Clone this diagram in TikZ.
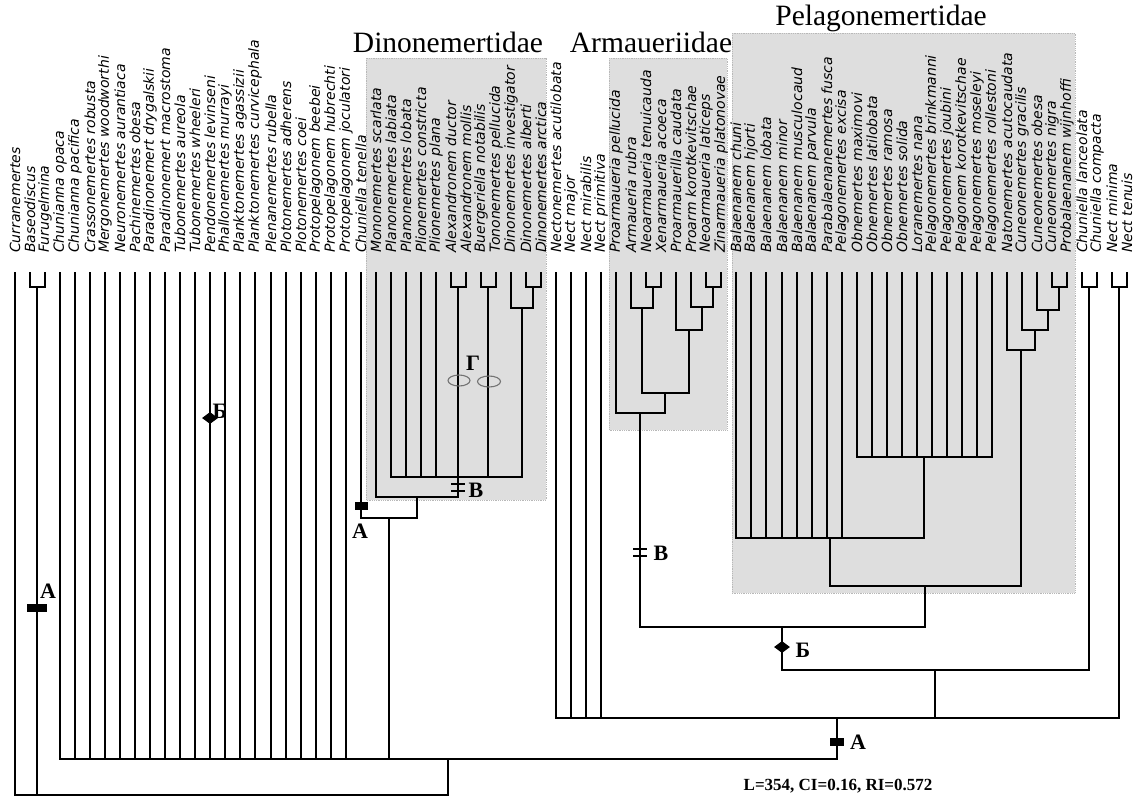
\documentclass[tikz,border=0pt]{standalone}
\usepackage{fontspec}
\setmainfont{Liberation Serif}
\newfontfamily\taxfont{DejaVu Sans}
\usetikzlibrary{shapes.geometric}
\def\lx#1{round(15+(#1-1)*15.03)}
\newcommand\mkclade[2]{\foreach \c in {#2}{\draw[br] (\c) |- (#1);}}
\begin{document}
\begin{tikzpicture}[x=1pt,y=-1pt,
  br/.style={line width=2.4pt,line cap=rect},
  tax/.style={rotate=90,anchor=west,inner sep=0pt,font=\taxfont\itshape\fontsize{14}{15}\selectfont},
  ttl/.style={anchor=base,inner sep=0pt,font=\fontsize{29.5}{31}\selectfont},
  lett/.style={inner sep=0pt,font=\bfseries\fontsize{22}{24}\selectfont},
  fam/.style={fill=black!13,draw=black!28,densely dotted,line width=0.8pt},
  amark/.style={fill=black,inner sep=0pt,minimum height=7.5pt},
  bmark/.style={diamond,fill=black,inner sep=0pt,minimum width=16pt,minimum height=12pt},
  vbar/.style={line width=2.2pt},
  gring/.style={draw=black!55,line width=1.1pt}]
\useasboundingbox (0,0) rectangle (1142,798);
\fill[white] (0,0) rectangle (1142,798);
% family boxes
\path[fam] (366,58) rectangle (546,500);
\path[fam] (609,58) rectangle (727,430);
\path[fam] (732,33) rectangle (1075,593);
\node[ttl] (tD) at (448,52) {Dinonemertidae};
\node[ttl] (tA) at (651,52) {Armaueriidae};
\node[ttl] (tP) at (881,25) {Pelagonemertidae};
% leaves
\foreach \n/\t in {1/Curranemertes,2/Baseodiscus,3/Furugelmina,4/Chunianna opaca,5/Chunianna pacifica,
 6/Crassonemertes robusta,7/Mergonemertes woodworthi,8/Neuronemertes aurantiaca,9/Pachinemertes obesa,
 10/Paradinonemert drygalskii,11/Paradinonemert macrostoma,12/Tubonemertes aureola,13/Tubonemertes wheeleri,
 14/Pendonemertes levinseni,15/Phallonemertes murrayi,16/Planktonemertes agassizii,17/Planktonemertes curvicephala,
 18/Plenanemertes rubella,19/Plotonemertes adherens,20/Plotonemertes coei,21/Protopelagonem beebei,
 22/Protopelagonem hubrechti,23/Protopelagonem joculatori,24/Chuniella tenella,25/Mononemertes scarlata,
 26/Planonemertes labiata,27/Planonemertes lobata,28/Plionemertes constricta,29/Plionemertes plana,
 30/Alexandronem ductor,31/Alexandronem mollis,32/Buergeriella notabilis,33/Tononemertes pellucida,
 34/Dinonemertes investigator,35/Dinonemertes alberti,36/Dinonemertes arctica,37/Nectonemertes acutilobata,
 38/Nect major,39/Nect mirabilis,40/Nect primitiva,41/Proarmaueria pellucida,42/Armaueria rubra,
 43/Neoarmaueria tenuicauda,44/Xenarmaueria acoeca,45/Proarmauerilla caudata,46/Proarm korotkevitschae,
 47/Neoarmaueria laticeps,48/Zinarmaueria platonovae,49/Balaenanem chuni,50/Balaenanem hjorti,
 51/Balaenanem lobata,52/Balaenanem minor,53/Balaenanem musculocaud,54/Balaenanem parvula,
 55/Parabalaenanemertes fusca,56/Pelagonemertes excisa,57/Obnemertes maximovi,58/Obnemertes latilobata,
 59/Obnemertes ramosa,60/Obnemertes solida,61/Loranemertes nana,62/Pelagonemertes brinkmanni,
 63/Pelagonemertes joubini,64/Pelagonem korotkevitschae,65/Pelagonemertes moseleyi,66/Pelagonemertes rollestoni,
 67/Natonemertes acutocaudata,68/Cuneonemertes gracilis,69/Cuneonemertes obesa,70/Cuneonemertes nigra,
 71/Probalaenanem wijnhoffi,72/Chuniella lanceolata,73/Chuniella compacta,74/Nect minima,75/Nect tenuis}{
  \coordinate (t\n) at ({\lx{\n}},273);
  \node[tax] (l\n) at ({\lx{\n}},253) {\t};
}
% internal nodes
\coordinate (root) at (231,795);
\coordinate (pBF) at (37,287);
\coordinate (nMid) at (448,759);
\coordinate (nD1) at (389,518);
\coordinate (nD2) at (417,497);
\coordinate (nD3) at (458,477);
\coordinate (pAlex) at (458,287);
\coordinate (pBT) at (488,287);
\coordinate (pAA) at (533,287);
\coordinate (nDino) at (522,308);
\coordinate (nA) at (837,718);
\coordinate (pNN) at (1119,287);
\coordinate (pCC) at (1089,287);
\coordinate (nB1) at (935,670);
\coordinate (nAP) at (782,627);
\coordinate (nArm) at (640,413);
\coordinate (nArm2) at (665,393);
\coordinate (nArm3) at (642,308);
\coordinate (pNX) at (653,287);
\coordinate (nArm4) at (689,330);
\coordinate (nArm5) at (702,307);
\coordinate (pLZ) at (713,287);
\coordinate (nPel) at (925,586);
\coordinate (nPel1) at (830,538);
\coordinate (nPel3) at (924,457);
\coordinate (nPel2) at (1021,350);
\coordinate (nPel4) at (1035,330);
\coordinate (nPel5) at (1048,310);
\coordinate (pNW) at (1059,287);
% tree
\mkclade{root}{t1,pBF,nMid}
\mkclade{pBF}{t2,t3}
\mkclade{nMid}{t4,t5,t6,t7,t8,t9,t10,t11,t12,t13,t14,t15,t16,t17,t18,t19,t20,t21,t22,t23,nD1,nA}
\mkclade{nD1}{t24,nD2}
\mkclade{nD2}{t25,nD3}
\mkclade{nD3}{t26,t27,t28,t29,pAlex,pBT,nDino}
\mkclade{pAlex}{t30,t31}
\mkclade{pBT}{t32,t33}
\mkclade{nDino}{t34,pAA}
\mkclade{pAA}{t35,t36}
\mkclade{nA}{t37,t38,t39,t40,nB1,pNN}
\mkclade{pNN}{t74,t75}
\mkclade{nB1}{nAP,pCC}
\mkclade{pCC}{t72,t73}
\mkclade{nAP}{nArm,nPel}
\mkclade{nArm}{t41,nArm2}
\mkclade{nArm2}{nArm3,nArm4}
\mkclade{nArm3}{t42,pNX}
\mkclade{pNX}{t43,t44}
\mkclade{nArm4}{t45,nArm5}
\mkclade{nArm5}{t46,pLZ}
\mkclade{pLZ}{t47,t48}
\mkclade{nPel}{nPel1,nPel2}
\mkclade{nPel1}{t49,t50,t51,t52,t53,t54,t55,t56,nPel3}
\mkclade{nPel3}{t57,t58,t59,t60,t61,t62,t63,t64,t65,t66}
\mkclade{nPel2}{t67,nPel4}
\mkclade{nPel4}{t68,nPel5}
\mkclade{nPel5}{t69,pNW}
\mkclade{pNW}{t70,t71}
% markers
\node[amark,minimum width=20pt] (mA1) at (37,608) {};
\node[lett] (lA1) at (48,591) {А};
\node[amark,minimum width=13pt] (mA2) at (361,506) {};
\node[lett] (lA2) at (360,531) {А};
\node[amark,minimum width=14pt] (mA3) at (837,742) {};
\node[lett] (lA3) at (858,742) {А};
\node[bmark] (mB1) at (210,418) {};
\node[lett] (lB1) at (220,411) {Б};
\node[bmark] (mB2) at (782,647) {};
\node[lett] (lB2) at (803,650) {Б};
\draw[vbar] (451,484) -- (465,484);
\draw[vbar] (451,491) -- (465,491);
\node[lett] (lV1) at (476,490) {В};
\draw[vbar] (633,549) -- (647,549);
\draw[vbar] (633,556) -- (647,556);
\node[lett] (lV2) at (661,553) {В};
\draw[gring] (459,380.5) ellipse [x radius=11, y radius=5.5];
\draw[gring] (489,381.5) ellipse [x radius=11.5, y radius=5.5];
\node[lett] (lG) at (473,363) {Г};
\node[inner sep=0pt,font=\bfseries\fontsize{17}{19}\selectfont] (stat) at (838,786) {L=354, CI=0.16, RI=0.572};
\end{tikzpicture}
\end{document}
